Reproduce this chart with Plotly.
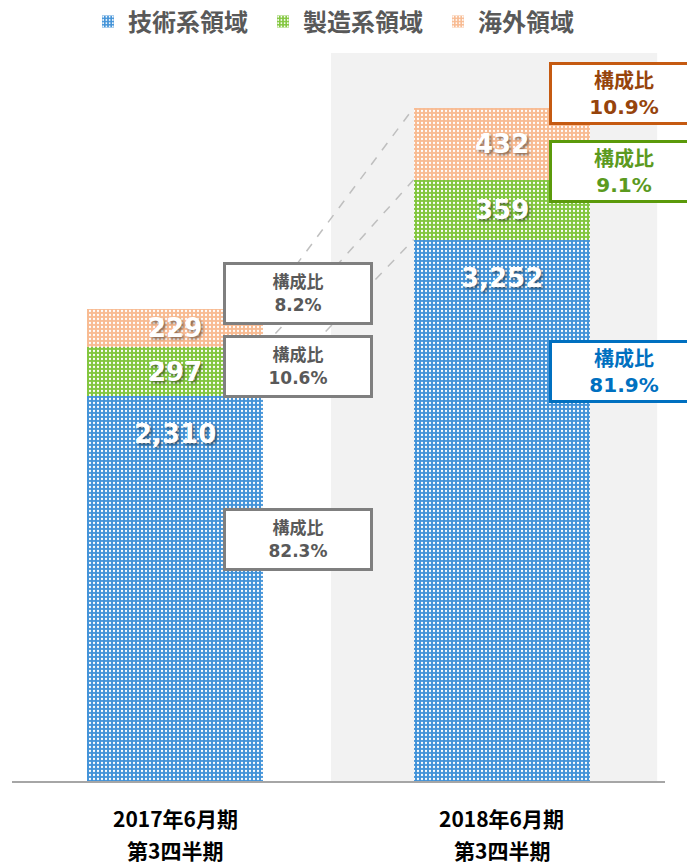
import plotly.graph_objects as go

# ---- data ----
categories = ["2017年6月期", "2018年6月期"]
category_line2 = ["第3四半期", "第3四半期"]
series_names = ["技術系領域", "製造系領域", "海外領域"]
tech_values = [2310, 3252]
mfg_values = [297, 359]
overseas_values = [229, 432]
share_2017 = ["82.3%", "10.6%", "8.2%"]
share_2018 = ["81.9%", "9.1%", "10.9%"]

W, H = 687, 867
ML, MR, MT, MB = 12, 22, 53, 86
PW, PH = W - ML - MR, H - MT - MB


def px2x(px):
    return (px - ML) / PW


def py2y(py):
    return (H - MB - py) / PH


xs = [0, 1]
bar_w = 0.54
colors = ["#4393D8", "#82C63E", "#F8BB92"]
series = [tech_values, mfg_values, overseas_values]

fig = go.Figure()
for name, vals, col in zip(series_names, series, colors):
    fig.add_trace(go.Bar(
        x=xs, y=vals, name=name, width=bar_w,
        marker=dict(color=col, line=dict(width=0),
                    pattern=dict(shape=".", fgcolor="white", bgcolor=col,
                                 size=4, solidity=0.25, fillmode="replace")),
        hoverinfo="skip",
    ))

# series lines between bars
cum1 = [tech_values[0], tech_values[0] + mfg_values[0],
        tech_values[0] + mfg_values[0] + overseas_values[0]]
cum2 = [tech_values[1], tech_values[1] + mfg_values[1],
        tech_values[1] + mfg_values[1] + overseas_values[1]]
for a, b in zip(cum1, cum2):
    fig.add_trace(go.Scatter(
        x=[bar_w / 2, 1 - bar_w / 2], y=[a, b], mode="lines",
        line=dict(color="#BFBFBF", width=1.5, dash="dash"),
        showlegend=False, hoverinfo="skip"))

annotations = []
label_font = dict(family="DejaVu Sans, Noto Sans CJK JP", size=26, color="white",
                  shadow="2px 2px 3px rgba(0,0,0,0.45)")
for i in range(2):
    t, m, o = tech_values[i], mfg_values[i], overseas_values[i]
    annotations.append(dict(x=xs[i], y=t, yshift=-38, text=f"<b>{t:,}</b>",
                            showarrow=False, font=label_font, yanchor="middle"))
    annotations.append(dict(x=xs[i], y=t + m / 2, text=f"<b>{m:,}</b>",
                            showarrow=False, font=label_font, yanchor="middle"))
    annotations.append(dict(x=xs[i], y=t + m + o / 2, text=f"<b>{o:,}</b>",
                            showarrow=False, font=label_font, yanchor="middle"))

# category labels
cat_font = dict(family="Noto Sans CJK JP", size=21, color="#000000")
for i in range(2):
    annotations.append(dict(x=xs[i], xref="x", yref="paper", y=py2y(818),
                            text=f"<b>{categories[i]}</b>", showarrow=False,
                            font=cat_font, yanchor="middle"))
    annotations.append(dict(x=xs[i], xref="x", yref="paper", y=py2y(850),
                            text=f"<b>{category_line2[i]}</b>", showarrow=False,
                            font=cat_font, yanchor="middle"))


def box(cx, cy, text, border, tcolor, size):
    return dict(x=px2x(cx), y=py2y(cy), xref="paper", yref="paper",
                text=text, showarrow=False, xanchor="center", yanchor="middle",
                bgcolor="white", bordercolor=border, borderwidth=3, borderpad=0,
                width=144, height=57,
                font=dict(family="DejaVu Sans, Noto Sans CJK JP", size=size, color=tcolor))


gray = "#7F7F7F"
gtext = "#595959"
annotations.append(box(297.5, 293, f"<b>構成比<br>{share_2017[2]}</b>", gray, gtext, 17))
annotations.append(box(297.5, 366, f"<b>構成比<br>{share_2017[1]}</b>", gray, gtext, 17))
annotations.append(box(297.5, 539, f"<b>構成比<br>{share_2017[0]}</b>", gray, gtext, 17))
annotations.append(box(624, 93, f"<b>構成比<br>{share_2018[2]}</b>", "#C55A11", "#96440C", 20))
annotations.append(box(624, 171, f"<b>構成比<br>{share_2018[1]}</b>", "#5B9A0A", "#5B9A1E", 20))
annotations.append(box(624, 371, f"<b>構成比<br>{share_2018[0]}</b>", "#0070C0", "#0070C0", 20))

fig.update_layout(
    width=W, height=H,
    margin=dict(l=ML, r=MR, t=MT, b=MB, autoexpand=False),
    paper_bgcolor="white", plot_bgcolor="white",
    barmode="stack",
    showlegend=True,
    legend=dict(orientation="h", x=px2x(88), xanchor="left", y=py2y(22), yanchor="middle",
                font=dict(family="Noto Sans CJK JP", size=24, color="#595959", weight="bold"),
                entrywidth=130, entrywidthmode="pixels", traceorder="normal",
                bgcolor="rgba(0,0,0,0)"),
    xaxis=dict(range=[-0.5, 1.5], showline=True, linecolor="#A6A6A6", linewidth=2,
               showgrid=False, zeroline=False, tickvals=xs, showticklabels=False,
               ticks=""),
    yaxis=dict(range=[0, 4373], visible=False, showgrid=False, zeroline=False),
    shapes=[dict(type="rect", xref="x", yref="paper", x0=0.477, x1=1.476, y0=0, y1=1,
                 fillcolor="#F2F2F2", line=dict(width=0), layer="below")],
    annotations=annotations,
)

fig.write_html("out.html", config={"displayModeBar": False},
               post_script="document.body.style.margin='0';")
